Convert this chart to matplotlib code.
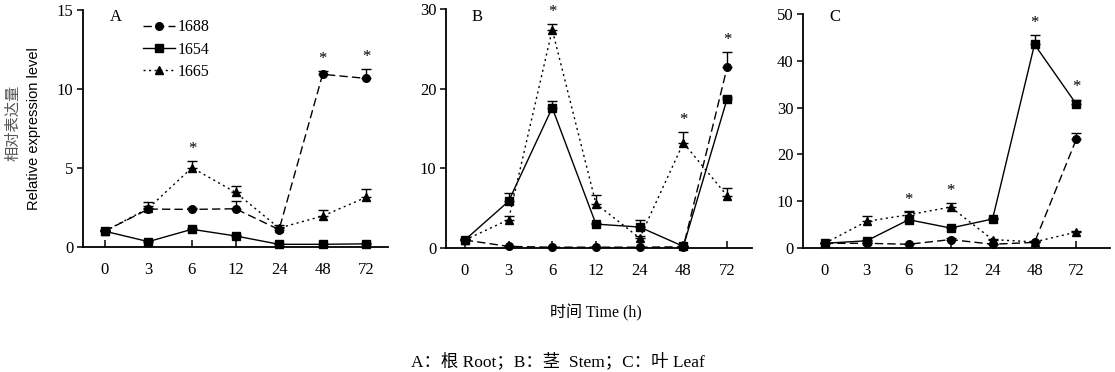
import matplotlib
matplotlib.use("Agg")
import matplotlib.pyplot as plt
import numpy as np

# ---------------- data ----------------
time_labels = ["0", "3", "6", "12", "24", "48", "72"]
series_names = ["1688", "1654", "1665"]

# Panel A (root)
A_1688 = [1.0, 2.4, 2.38, 2.42, 1.1, 10.93, 10.67]
A_1688_err = [0.05, 0.2, 0.1, 0.5, 0.15, 0.2, 0.6]
A_1654 = [1.0, 0.34, 1.12, 0.7, 0.17, 0.17, 0.2]
A_1654_err = [0.05, 0.05, 0.1, 0.05, 0.05, 0.05, 0.05]
A_1665 = [1.0, 2.45, 5.02, 3.46, 1.2, 1.96, 3.15]
A_1665_err = [0.05, 0.4, 0.4, 0.4, 0.2, 0.4, 0.5]
A_stars = [(2, 2), (0, 5), (0, 6)]

# Panel B (stem)
B_1688 = [1.0, 0.2, 0.1, 0.1, 0.1, 0.15, 22.66]
B_1688_err = [0.1, 0.1, 0.05, 0.05, 0.05, 0.05, 1.9]
B_1654 = [1.0, 5.85, 17.6, 3.0, 2.63, 0.2, 18.7]
B_1654_err = [0.1, 1.05, 0.8, 0.1, 0.9, 0.1, 0.3]
B_1665 = [1.0, 3.55, 27.4, 5.56, 1.25, 13.2, 6.56]
B_1665_err = [0.1, 0.5, 0.75, 1.04, 0.2, 1.4, 0.95]
B_stars = [(2, 2), (2, 5), (0, 6)]

# Panel C (leaf)
C_1688 = [1.0, 1.0, 0.8, 1.8, 0.8, 1.2, 23.3]
C_1688_err = [0.1, 0.1, 0.1, 0.3, 0.1, 0.2, 1.3]
C_1654 = [1.0, 1.55, 6.04, 4.27, 6.19, 43.5, 30.7]
C_1654_err = [0.1, 0.2, 1.8, 0.3, 0.3, 2.0, 1.0]
C_1665 = [1.0, 5.7, 7.1, 8.75, 1.8, 1.3, 3.4]
C_1665_err = [0.1, 1.2, 0.5, 0.9, 0.2, 0.2, 0.3]
C_stars = [(2, 2), (2, 3), (1, 5), (1, 6)]

panel_letters = ["A", "B", "C"]
y_maxes = [15, 30, 50]
y_steps = [5, 10, 10]

# ---------------- styling ----------------
serif = ["Liberation Serif", "DejaVu Serif"]
cjk = ["Noto Sans CJK SC", "Liberation Serif", "DejaVu Sans"]
plt.rcParams["font.family"] = serif

fig = plt.figure(figsize=(11.15, 3.72), dpi=100)
W, H = 1115.0, 372.0

def fx(px):
    return px / W

def fy(py):
    return 1 - py / H

# axes rects: (left px, right px, top px, bottom px)
rects = [(83, 388, 10, 247), (446, 752, 9, 248), (803, 1110, 14, 248)]
xlims = [(-0.5, 6.5), (-0.43, 6.57), (-0.52, 6.8)]
letter_pos = [(110, 17), (472, 17), (829, 17)]

styles = [
    dict(marker="o", linestyle=(0, (6, 3)), markersize=5.5),
    dict(marker="s", linestyle="-", markersize=5.5),
    dict(marker="^", linestyle=(0, (1.5, 2.5)), markersize=5.5),
]

panels = [
    ([A_1688, A_1654, A_1665], [A_1688_err, A_1654_err, A_1665_err], A_stars),
    ([B_1688, B_1654, B_1665], [B_1688_err, B_1654_err, B_1665_err], B_stars),
    ([C_1688, C_1654, C_1665], [C_1688_err, C_1654_err, C_1665_err], C_stars),
]

x = np.arange(len(time_labels))
for i, (rect, (vals, errs, stars)) in enumerate(zip(rects, panels)):
    l, r, t, b = rect
    ax = fig.add_axes([fx(l), fy(b), fx(r) - fx(l), fy(t) - fy(b)])
    handles = []
    for s in range(3):
        v = np.array(vals[s])
        e = np.array(errs[s])
        cont = ax.errorbar(x, v, yerr=[np.zeros_like(e), e], color="black",
                           linewidth=1.0, elinewidth=1.0, capsize=3.5, capthick=1.0,
                           markeredgecolor="black", markerfacecolor="black",
                           clip_on=False, zorder=3 + s, **styles[s])
        for c in list(cont.lines[1]) + list(cont.lines[2]):
            c.set_clip_on(False)
        handles.append(cont.lines[0])
    for (s, xi) in stars:
        top = vals[s][xi] + errs[s][xi]
        ax.annotate("*", xy=(xi, top), xytext=(0, 3), textcoords="offset points",
                    ha="center", va="bottom", fontsize=12, family=serif)
    ax.set_xlim(*xlims[i])
    ax.set_ylim(0, y_maxes[i])
    ax.set_yticks(np.arange(0, y_maxes[i] + 0.1, y_steps[i]))
    ax.set_xticks(x)
    ax.set_xticklabels(time_labels)
    for sp in ("top", "right"):
        ax.spines[sp].set_visible(False)
    for sp in ("left", "bottom"):
        ax.spines[sp].set_linewidth(1.3)
    ax.tick_params(axis="y", direction="out", length=4, width=1.1, labelsize=12, pad=3)
    ax.tick_params(axis="x", direction="in", length=5, width=1.1, labelsize=12, pad=11)
    lx, ly = letter_pos[i]
    fig.text(fx(lx), fy(ly), panel_letters[i], ha="left", va="center", fontsize=12)
    if i == 0:
        ax.legend(handles, series_names, loc="upper left",
                  bbox_to_anchor=(fx(132), fy(8)), bbox_transform=fig.transFigure,
                  frameon=False, fontsize=11.5, handlelength=2.0, handletextpad=0.15,
                  labelspacing=0.4, borderpad=0.2)

# y label
fig.text(fx(13), fy(123), "相对表达量", rotation=90, ha="center", va="center",
         fontsize=11, family=cjk, color="#555555")
fig.text(fx(34), fy(129), "Relative expression level", rotation=90, ha="center",
         va="center", fontsize=10.5, family=["Liberation Sans", "DejaVu Sans"])

# x label and caption
fig.text(fx(596), fy(313), "时间 Time (h)", ha="center", va="center", fontsize=11.5,
         family=["Liberation Serif", "Noto Sans CJK SC"])
fig.text(fx(558), fy(361), "A：根 Root；B：茎  Stem；C：叶 Leaf", ha="center",
         va="center", fontsize=12.5, family=["Liberation Serif", "Noto Sans CJK SC"])

fig.savefig("out.png", dpi=100)
